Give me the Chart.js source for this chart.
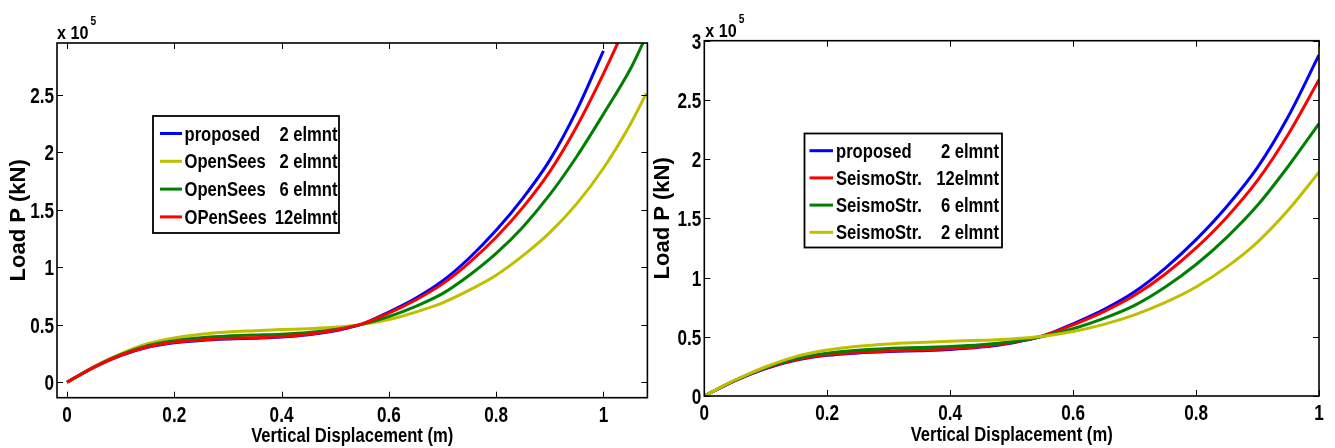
<!DOCTYPE html>
<html>
<head>
<meta charset="utf-8">
<script src="https://cdn.jsdelivr.net/npm/chart.js@4.4.0/dist/chart.umd.min.js"></script>
<style>
  html, body { margin: 0; padding: 0; background: #fff; }
  body { width: 1335px; height: 448px; position: relative; overflow: hidden; }
  canvas { position: absolute; top: 0; }
  #leftChart { left: 0; }
  #rightChart { left: 640px; }
</style>
</head>
<body>
<canvas id="leftChart" width="667" height="448"></canvas>
<canvas id="rightChart" width="695" height="448"></canvas>
<script>
// vertical displacement (m); load values are in units of 10^5 kN
const disp = [0, 0.05, 0.1, 0.15, 0.2, 0.25, 0.3, 0.35, 0.4, 0.45, 0.5, 0.55, 0.6, 0.65, 0.7, 0.75, 0.8, 0.85, 0.9, 0.95, 1.0];

// left panel: proposed vs OpenSees (curves running past the frame get a few extra points)
const dispOs2Left = disp.concat([1.05, 1.08]);
const dispOs6Left = disp.concat([1.05, 1.075]);
const dispOs12Left = disp.concat([1.03]);
const propLeft = [0, 0.13, 0.232, 0.303, 0.343, 0.363, 0.375, 0.383, 0.393, 0.413, 0.448, 0.505, 0.61, 0.73, 0.88, 1.08, 1.32, 1.60, 1.93, 2.36, 2.88];
const os2Left = [0, 0.135, 0.247, 0.335, 0.386, 0.418, 0.437, 0.448, 0.458, 0.466, 0.478, 0.503, 0.545, 0.61, 0.69, 0.80, 0.93, 1.10, 1.30, 1.55, 1.86, 2.24, 2.51];
const os6Left = [0, 0.132, 0.24, 0.318, 0.362, 0.387, 0.402, 0.41, 0.418, 0.432, 0.458, 0.503, 0.57, 0.66, 0.77, 0.93, 1.12, 1.35, 1.63, 1.96, 2.33, 2.72, 2.96];
const os12Left = [0, 0.13, 0.235, 0.307, 0.348, 0.368, 0.38, 0.388, 0.398, 0.418, 0.452, 0.507, 0.60, 0.715, 0.855, 1.04, 1.26, 1.52, 1.83, 2.22, 2.68, 2.98];
const labelsLeft = ['proposed    2 elmnt', 'OpenSees  2 elmnt', 'OpenSees  6 elmnt', 'OPenSees 12elmnt'];

// right panel: proposed vs SeismoStruct
const propRight = [0, 0.13, 0.232, 0.303, 0.343, 0.363, 0.375, 0.383, 0.393, 0.413, 0.448, 0.505, 0.61, 0.73, 0.88, 1.08, 1.32, 1.60, 1.93, 2.36, 2.88];
const ss12Right = [0, 0.13, 0.235, 0.307, 0.348, 0.368, 0.38, 0.388, 0.398, 0.418, 0.452, 0.507, 0.60, 0.712, 0.85, 1.03, 1.25, 1.51, 1.82, 2.21, 2.67];
const ss6Right = [0, 0.132, 0.24, 0.318, 0.362, 0.387, 0.402, 0.41, 0.418, 0.432, 0.458, 0.503, 0.568, 0.655, 0.765, 0.92, 1.11, 1.34, 1.61, 1.94, 2.30];
const ss2Right = [0, 0.135, 0.247, 0.335, 0.388, 0.42, 0.44, 0.452, 0.462, 0.47, 0.482, 0.505, 0.545, 0.605, 0.685, 0.79, 0.92, 1.09, 1.30, 1.57, 1.89];
const labelsRight = ['proposed     2 elmnt', 'SeismoStr. 12elmnt', 'SeismoStr.  6 elmnt', 'SeismoStr.  2 elmnt'];

const xTicks = [0, 0.2, 0.4, 0.6, 0.8, 1];
const yTicksLeft = [0, 0.5, 1, 1.5, 2, 2.5];
const yTicksRight = [0, 0.5, 1, 1.5, 2, 2.5, 3];

const SANS = '"Liberation Sans", Arial, sans-serif';

function pts(xs, ys) {
  return ys.map((y, i) => ({ x: xs[i], y: y }));
}

function fmt(v) {
  return String(+v.toFixed(2));
}

// the source figure is horizontally compressed, so text is squeezed around its anchor
function narrowText(ctx, text, x, y, align, squeeze) {
  ctx.save();
  ctx.translate(x, y);
  ctx.scale(squeeze, 1);
  ctx.textAlign = align;
  ctx.fillText(text, 0, 0);
  ctx.restore();
}

// MATLAB-like frame: box, inward ticks, tick labels, exponent, x title, boxed legend
const matlabFrame = {
  id: 'matlabFrame',
  afterDraw(chart, args, o) {
    const ctx = chart.ctx;
    const a = chart.chartArea;
    const xs = chart.scales.x, ys = chart.scales.y;
    ctx.save();
    ctx.strokeStyle = '#000';
    ctx.lineWidth = 1;
    ctx.beginPath();
    xs.ticks.forEach(t => {
      const px = Math.round(xs.getPixelForValue(t.value)) + 0.5;
      ctx.moveTo(px, a.bottom); ctx.lineTo(px, a.bottom - 6);
      ctx.moveTo(px, a.top); ctx.lineTo(px, a.top + 6);
    });
    ys.ticks.forEach(t => {
      const py = Math.round(ys.getPixelForValue(t.value)) + 0.5;
      ctx.moveTo(a.left, py); ctx.lineTo(a.left + 6, py);
      ctx.moveTo(a.right, py); ctx.lineTo(a.right - 6, py);
    });
    ctx.stroke();
    ctx.lineWidth = 1.6;
    ctx.strokeRect(a.left, a.top, a.right - a.left, a.bottom - a.top);

    ctx.fillStyle = '#000';
    ctx.textBaseline = 'alphabetic';

    // tick labels
    ctx.font = 'bold 22px ' + SANS;
    xs.ticks.forEach(t => {
      narrowText(ctx, fmt(t.value), xs.getPixelForValue(t.value), o.xLabelBase, 'center', 0.78);
    });
    ys.ticks.forEach(t => {
      narrowText(ctx, fmt(t.value), a.left - 3, ys.getPixelForValue(t.value) + 8, 'right', 0.78);
    });

    // x title
    ctx.font = 'bold 20px ' + SANS;
    narrowText(ctx, 'Vertical Displacement (m)', (a.left + a.right) / 2, o.xTitleBase, 'center', 0.83);

    // "x 10^5"
    ctx.font = 'bold 19px ' + SANS;
    const ex = a.left + o.expDx;
    narrowText(ctx, 'x 10', ex, a.top - 4, 'left', 0.85);
    const w = ctx.measureText('x 10').width * 0.85;
    ctx.font = 'bold 12px ' + SANS;
    narrowText(ctx, '5', ex + w + 2, a.top - 18, 'left', 0.85);

    // legend
    const L = o.legend;
    ctx.fillStyle = '#fff';
    ctx.fillRect(L.left, L.top, L.right - L.left, L.bottom - L.top);
    ctx.lineWidth = 1.8;
    ctx.strokeStyle = '#000';
    ctx.strokeRect(L.left, L.top, L.right - L.left, L.bottom - L.top);
    ctx.font = 'bold 20px ' + SANS;
    chart.data.datasets.forEach((ds, i) => {
      const y = L.row0 + i * L.rowGap;
      ctx.strokeStyle = ds.borderColor;
      ctx.lineWidth = 3;
      ctx.beginPath();
      ctx.moveTo(L.sample0, y); ctx.lineTo(L.sample1, y);
      ctx.stroke();
      const m = ds.label.match(/^(.*\S)\s+(\d+\s?elmnt)$/);
      ctx.fillStyle = '#000';
      narrowText(ctx, m ? m[1] : ds.label, L.text0, y + 7, 'left', 0.83);
      if (m) narrowText(ctx, m[2], L.text1, y + 7, 'right', 0.83);
    });
    ctx.restore();
  }
};

function makeChart(id, g, series) {
  const n = series.length;
  return new Chart(document.getElementById(id).getContext('2d'), {
    type: 'line',
    data: {
      datasets: series.map((s, i) => ({
        label: s.label,
        data: pts(s.x, s.y),
        borderColor: s.color,
        backgroundColor: s.color,
        borderWidth: 3,
        pointRadius: 0,
        fill: false,
        cubicInterpolationMode: 'monotone',
        order: n - 1 - i
      }))
    },
    options: {
      responsive: false,
      animation: false,
      devicePixelRatio: 1,
      layout: { padding: { left: 0, top: g.plotTop, right: g.padRight, bottom: 0 } },
      plugins: {
        legend: { display: false },
        tooltip: { enabled: false },
        matlabFrame: { legend: g.legend, expDx: g.expDx,
                       xLabelBase: g.xLabelBase, xTitleBase: g.xTitleBase }
      },
      scales: {
        x: {
          type: 'linear',
          min: g.xMin, max: g.xMax,
          afterBuildTicks: s => { s.ticks = xTicks.map(v => ({ value: v })); },
          afterFit: s => { s.height = g.xAxisH; },
          grid: { display: false },
          border: { display: false },
          ticks: { display: false }
        },
        y: {
          type: 'linear',
          min: g.yMin, max: g.yMax,
          afterBuildTicks: s => { s.ticks = g.yTicks.map(v => ({ value: v })); },
          afterFit: s => { s.width = g.plotLeft; },
          grid: { display: false },
          border: { display: false },
          ticks: { display: false },
          title: { display: true, text: 'Load P (kN)', color: '#000',
                   padding: { top: g.yTitlePad, bottom: 0 },
                   font: { family: SANS, size: 22, weight: 'bold', lineHeight: 1 } }
        }
      }
    },
    plugins: [matlabFrame]
  });
}

makeChart('leftChart', {
  plotLeft: 57, plotTop: 43, padRight: 19.6, xAxisH: 50.3,
  xMin: -0.0186, xMax: 1.082, yMin: -0.134, yMax: 2.948, yTicks: yTicksLeft,
  xLabelBase: 421.5, xTitleBase: 441.5, yTitlePad: 8, expDx: 0,
  legend: { left: 153, top: 116, right: 339, bottom: 233, row0: 133.5, rowGap: 27.8,
            sample0: 160, sample1: 182, text0: 184.5, text1: 337.5 }
}, [
  { label: labelsLeft[0], x: disp, y: propLeft, color: '#0000ff' },
  { label: labelsLeft[1], x: dispOs2Left, y: os2Left, color: '#bfbf00' },
  { label: labelsLeft[2], x: dispOs6Left, y: os6Left, color: '#008000' },
  { label: labelsLeft[3], x: dispOs12Left, y: os12Left, color: '#ff0000' }
]);

makeChart('rightChart', {
  plotLeft: 64.3, plotTop: 40.7, padRight: 16, xAxisH: 52,
  xMin: 0, xMax: 1, yMin: 0, yMax: 3, yTicks: yTicksRight,
  xLabelBase: 420, xTitleBase: 440.5, yTitlePad: 12, expDx: 1,
  legend: { left: 164.5, top: 133.5, right: 362, bottom: 247.5, row0: 150.7, rowGap: 27.2,
            sample0: 169.5, sample1: 193, text0: 196, text1: 359 }
}, [
  { label: labelsRight[0], x: disp, y: propRight, color: '#0000ff' },
  { label: labelsRight[1], x: disp, y: ss12Right, color: '#ff0000' },
  { label: labelsRight[2], x: disp, y: ss6Right, color: '#008000' },
  { label: labelsRight[3], x: disp, y: ss2Right, color: '#bfbf00' }
]);
</script>
</body>
</html>
